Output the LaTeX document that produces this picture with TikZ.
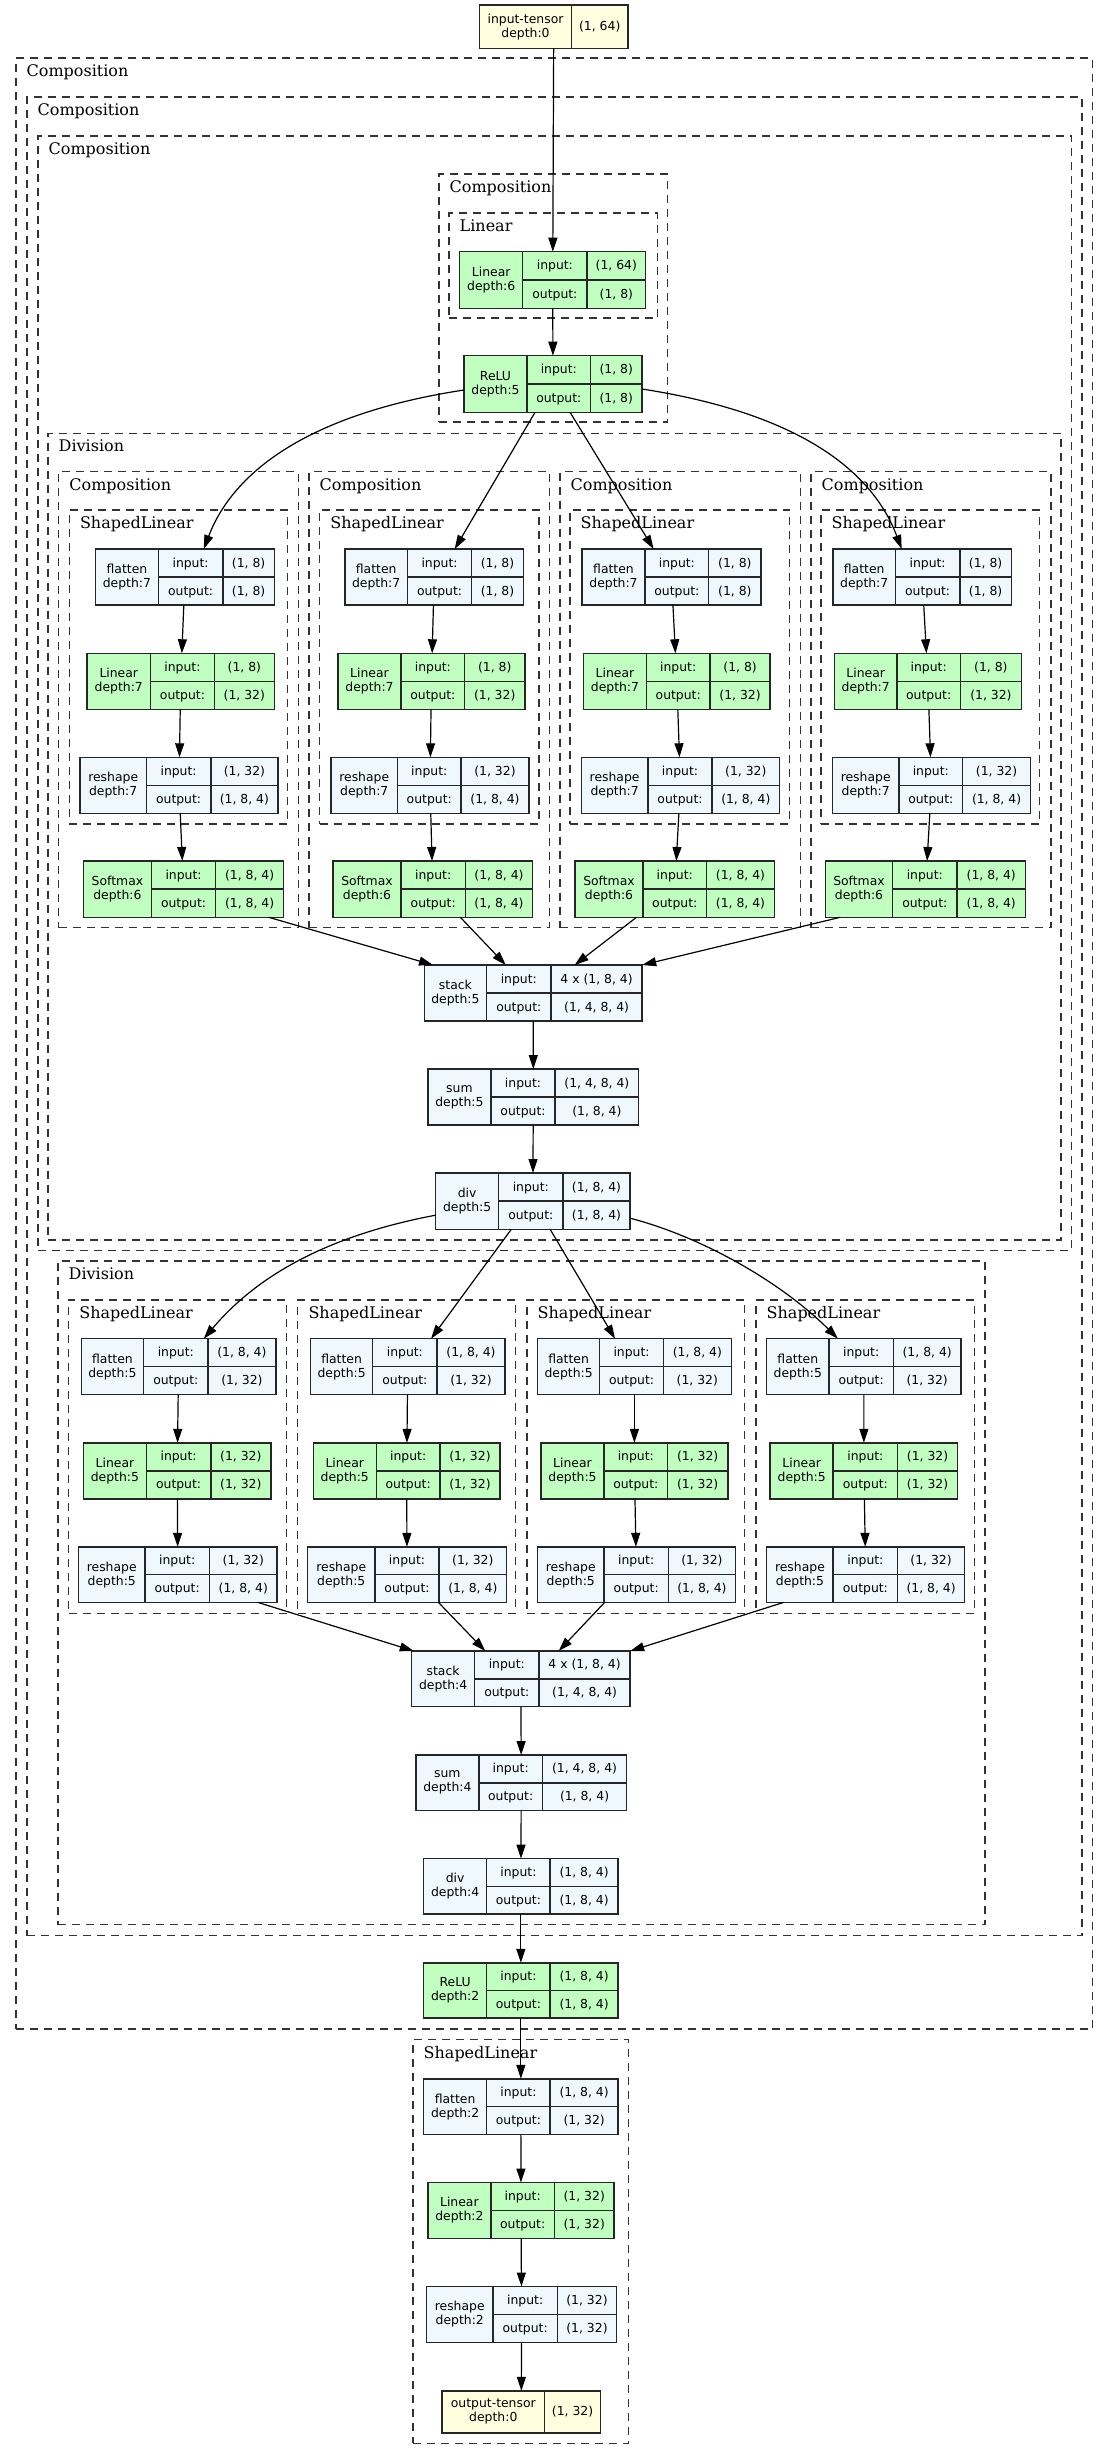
\documentclass[tikz,border=0pt]{standalone}
\usepackage{fontspec}
\newfontfamily\nodefam{DejaVu Sans}
\newfontfamily\clusfam{DejaVu Serif}
\usetikzlibrary{arrows.meta,calc}
\definecolor{modgreen}{HTML}{C1FFC1}
\definecolor{funblue}{HTML}{F0F8FF}
\definecolor{tenyellow}{HTML}{FFFFE0}
\tikzset{
 recbox/.style={draw=black!85, line width=1.5pt, inner sep=0pt, outer sep=0pt},
 recline/.style={draw=black!85, line width=1.5pt},
 labtxt/.style={inner sep=0pt, align=center, font=\nodefam\fontsize{12.4}{14}\selectfont},
 valtxt/.style={inner sep=0pt, anchor=base, font=\nodefam\fontsize{12.4}{14}\selectfont},
 clusbox/.style={draw=black!80, line width=1.3pt, dash pattern=on 8pt off 6pt, inner sep=0pt, outer sep=0pt},
 cluslab/.style={inner sep=0pt, anchor=base west, font=\clusfam\fontsize{16}{19}\selectfont},
 arr/.style={line width=1.2pt, -{Triangle[length=14pt,width=9pt]}},
}
\newcommand\clus[6]{%
 \pgfmathsetmacro\qx{(#2+#4)/2}\pgfmathsetmacro\qy{(#3+#5)/2}%
 \pgfmathsetmacro\qw{#4-#2}\pgfmathsetmacro\qh{#5-#3}%
 \node[clusbox, minimum width=\qw pt, minimum height=\qh pt] (#1) at (\qx,\qy) {};%
 \node[cluslab] (#1-lab) at ($(#1.north west)+(10.5,18.5)$) {#6};%
}
\newcommand\recnode[9]{%
 \pgfmathsetmacro\rcx{(#2+#3)/2}\pgfmathsetmacro\rcy{(#4+#5)/2}%
 \pgfmathsetmacro\rw{#3-#2}\pgfmathsetmacro\rh{#5-#4}%
 \node[recbox, fill=#8, minimum width=\rw pt, minimum height=\rh pt] (#1) at (\rcx,\rcy) {};%
 \draw[recline] (#6,#4) -- (#6,#5);%
 \draw[recline] (#7,#4) -- (#7,#5);%
 \draw[recline] (#6,\rcy) -- (#3,\rcy);%
 \pgfmathsetmacro\rAx{(#2+#6)/2}\pgfmathsetmacro\rBx{(#6+#7)/2}\pgfmathsetmacro\rCx{(#7+#3)/2}%
 \pgfmathsetmacro\rTy{(#4+\rcy)/2+4}\pgfmathsetmacro\rLy{(\rcy+#5)/2+4}%
 \node[labtxt] (#1-n) at (\rAx,\rcy) {#9};%
 \node[valtxt] (#1-ik) at (\rBx,\rTy) {input:};%
 \node[valtxt] (#1-ok) at (\rBx,\rLy) {output:};%
 \coordinate (#1-iv) at (\rCx,\rTy);%
 \coordinate (#1-ov) at (\rCx,\rLy);%
}
\newcommand\recio[3]{%
 \node[valtxt] (#1-ivt) at (#1-iv) {#2};%
 \node[valtxt] (#1-ovt) at (#1-ov) {#3};%
}
\newcommand\tensnode[8]{%
 \pgfmathsetmacro\rcx{(#2+#3)/2}\pgfmathsetmacro\rcy{(#4+#5)/2}%
 \pgfmathsetmacro\rw{#3-#2}\pgfmathsetmacro\rh{#5-#4}%
 \node[recbox, fill=tenyellow, minimum width=\rw pt, minimum height=\rh pt] (#1) at (\rcx,\rcy) {};%
 \draw[recline] (#6,#4) -- (#6,#5);%
 \pgfmathsetmacro\rAx{(#2+#6)/2}\pgfmathsetmacro\rBx{(#6+#3)/2}\pgfmathsetmacro\rVy{\rcy+4}%
 \node[labtxt] (#1-n) at (\rAx,\rcy) {#7};%
 \node[valtxt] (#1-v) at (\rBx,\rVy) {#8};%
}
\begin{document}
\begin{tikzpicture}[x=1pt,y=-1pt]
\fill[white] (0,0) rectangle (1109,2460);
\useasboundingbox (0,0) rectangle (1109,2460);
% clusters
\clus{c1}{16}{58}{1092.7}{2029}{Composition}
\clus{c2}{27}{97}{1082}{1935.6}{Composition}
\clus{c3}{38}{136}{1071.5}{1250.7}{Composition}
\clus{c4}{439}{174}{667.6}{422}{Composition}
\clus{clin}{449}{213}{657.7}{318}{Linear}
\clus{d1}{48}{433.3}{1061}{1240}{Division}
\clus{cpa}{58.7}{471.7}{298.5}{927.7}{Composition}
\clus{cpb}{309}{471.7}{549.5}{927.7}{Composition}
\clus{cpc}{560}{471.7}{800.6}{927.7}{Composition}
\clus{cpd}{811}{471.7}{1051}{927.7}{Composition}
\clus{sla}{69.3}{510}{287.8}{824}{ShapedLinear}
\clus{slb}{319.7}{510}{539}{824}{ShapedLinear}
\clus{slc}{570}{510}{789.3}{824}{ShapedLinear}
\clus{sld}{821}{510}{1039.7}{824}{ShapedLinear}
\clus{d2}{58}{1261}{985}{1924.7}{Division}
\clus{sma}{68.6}{1300}{286.4}{1613.2}{ShapedLinear}
\clus{smb}{297.8}{1300}{515.6}{1613.2}{ShapedLinear}
\clus{smc}{527}{1300}{744.7}{1613.2}{ShapedLinear}
\clus{smd}{756}{1300}{974.6}{1613.2}{ShapedLinear}
\clus{slf}{413}{2039.8}{628.7}{2443.3}{ShapedLinear}
% nodes
\tensnode{it}{479.5}{628}{5}{48.3}{571.5}{input-tensor\\depth:0}{(1, 64)}
\recnode{lin6}{459.7}{645.7}{251.7}{308.3}{522.7}{587}{modgreen}{Linear\\depth:6}\recio{lin6}{(1, 64)}{(1, 8)}
\recnode{relu5}{464}{642}{355.7}{412.3}{527}{590.6}{modgreen}{ReLU\\depth:5}\recio{relu5}{(1, 8)}{(1, 8)}
% flatten 7
\recnode{fl7a}{95.5}{274.4}{549}{605}{158.4}{222.8}{funblue}{flatten\\depth:7}\recio{fl7a}{(1, 8)}{(1, 8)}
\recnode{fl7b}{345}{523.4}{549}{605}{407.4}{471.7}{funblue}{flatten\\depth:7}\recio{fl7b}{(1, 8)}{(1, 8)}
\recnode{fl7c}{582}{761}{549}{605}{645}{708.7}{funblue}{flatten\\depth:7}\recio{fl7c}{(1, 8)}{(1, 8)}
\recnode{fl7d}{833}{1011.4}{549}{605}{895.4}{959.8}{funblue}{flatten\\depth:7}\recio{fl7d}{(1, 8)}{(1, 8)}
% linear 7
\recnode{ln7a}{87}{274.4}{653.3}{709.3}{150.6}{214.3}{modgreen}{Linear\\depth:7}\recio{ln7a}{(1, 8)}{(1, 32)}
\recnode{ln7b}{338}{524.8}{653.3}{709.3}{401}{464.7}{modgreen}{Linear\\depth:7}\recio{ln7b}{(1, 8)}{(1, 32)}
\recnode{ln7c}{583.5}{770.2}{653.3}{709.3}{646.4}{710}{modgreen}{Linear\\depth:7}\recio{ln7c}{(1, 8)}{(1, 32)}
\recnode{ln7d}{834.6}{1021.3}{653.3}{709.3}{896.8}{960.5}{modgreen}{Linear\\depth:7}\recio{ln7d}{(1, 8)}{(1, 32)}
% reshape 7
\recnode{rs7a}{80}{278}{757.3}{813.3}{146.4}{210.8}{funblue}{reshape\\depth:7}\recio{rs7a}{(1, 32)}{(1, 8, 4)}
\recnode{rs7b}{331}{529}{757.3}{813.3}{397.5}{461}{funblue}{reshape\\depth:7}\recio{rs7b}{(1, 32)}{(1, 8, 4)}
\recnode{rs7c}{581.4}{779.4}{757.3}{813.3}{647.8}{712.2}{funblue}{reshape\\depth:7}\recio{rs7c}{(1, 32)}{(1, 8, 4)}
\recnode{rs7d}{832.4}{1030.5}{757.3}{813.3}{899}{962.6}{funblue}{reshape\\depth:7}\recio{rs7d}{(1, 32)}{(1, 8, 4)}
% softmax 6
\recnode{sm6a}{83.5}{283.6}{861}{917.3}{151.4}{215.7}{modgreen}{Softmax\\depth:6}\recio{sm6a}{(1, 8, 4)}{(1, 8, 4)}
\recnode{sm6b}{333}{532.6}{861}{917.3}{401}{465.4}{modgreen}{Softmax\\depth:6}\recio{sm6b}{(1, 8, 4)}{(1, 8, 4)}
\recnode{sm6c}{575}{774.5}{861}{917.3}{643}{706.5}{modgreen}{Softmax\\depth:6}\recio{sm6c}{(1, 8, 4)}{(1, 8, 4)}
\recnode{sm6d}{825.4}{1025.5}{861}{917.3}{892.6}{957}{modgreen}{Softmax\\depth:6}\recio{sm6d}{(1, 8, 4)}{(1, 8, 4)}
% stack/sum/div 5
\recnode{stack5}{424.3}{642.2}{965}{1021}{486.6}{551}{funblue}{stack\\depth:5}\recio{stack5}{4 x (1, 8, 4)}{(1, 4, 8, 4)}
\recnode{sum5}{428}{638.6}{1069}{1125}{490.8}{555.2}{funblue}{sum\\depth:5}\recio{sum5}{(1, 4, 8, 4)}{(1, 8, 4)}
\recnode{div5}{435.7}{630}{1173}{1229.3}{498.6}{563}{funblue}{div\\depth:5}\recio{div5}{(1, 8, 4)}{(1, 8, 4)}
% flatten 5
\recnode{fl5a}{81.3}{275.8}{1338.7}{1394.7}{143.6}{208}{funblue}{flatten\\depth:5}\recio{fl5a}{(1, 8, 4)}{(1, 32)}
\recnode{fl5b}{310.5}{505}{1338.7}{1394.7}{372.7}{437}{funblue}{flatten\\depth:5}\recio{fl5b}{(1, 8, 4)}{(1, 32)}
\recnode{fl5c}{537.5}{731.3}{1338.7}{1394.7}{599.7}{663.4}{funblue}{flatten\\depth:5}\recio{fl5c}{(1, 8, 4)}{(1, 32)}
\recnode{fl5d}{766.6}{961.1}{1338.7}{1394.7}{829}{893.3}{funblue}{flatten\\depth:5}\recio{fl5d}{(1, 8, 4)}{(1, 32)}
% linear 5
\recnode{ln5a}{83.5}{270.9}{1442.8}{1498.8}{146.4}{210.8}{modgreen}{Linear\\depth:5}\recio{ln5a}{(1, 32)}{(1, 32)}
\recnode{ln5b}{313.3}{500}{1442.8}{1498.8}{376.3}{440}{modgreen}{Linear\\depth:5}\recio{ln5b}{(1, 32)}{(1, 32)}
\recnode{ln5c}{541}{727.8}{1442.8}{1498.8}{604}{667.6}{modgreen}{Linear\\depth:5}\recio{ln5c}{(1, 32)}{(1, 32)}
\recnode{ln5d}{770.2}{957.6}{1442.8}{1498.8}{833.2}{897.5}{modgreen}{Linear\\depth:5}\recio{ln5d}{(1, 32)}{(1, 32)}
% reshape 5
\recnode{rs5a}{78.5}{277.2}{1546.8}{1602.4}{145}{209.4}{funblue}{reshape\\depth:5}\recio{rs5a}{(1, 32)}{(1, 8, 4)}
\recnode{rs5b}{307.7}{506.4}{1546.8}{1602.4}{374.8}{439.2}{funblue}{reshape\\depth:5}\recio{rs5b}{(1, 32)}{(1, 8, 4)}
\recnode{rs5c}{537.5}{735.5}{1546.8}{1602.4}{604}{668.4}{funblue}{reshape\\depth:5}\recio{rs5c}{(1, 32)}{(1, 8, 4)}
\recnode{rs5d}{766.7}{964.7}{1546.8}{1602.4}{833.2}{897.5}{funblue}{reshape\\depth:5}\recio{rs5d}{(1, 32)}{(1, 8, 4)}
% stack/sum/div 4
\recnode{stack4}{411.6}{630.2}{1651}{1706.5}{474.6}{539}{funblue}{stack\\depth:4}\recio{stack4}{4 x (1, 8, 4)}{(1, 4, 8, 4)}
\recnode{sum4}{415.9}{626.6}{1755}{1810.5}{478.8}{542.5}{funblue}{sum\\depth:4}\recio{sum4}{(1, 4, 8, 4)}{(1, 8, 4)}
\recnode{div4}{423.6}{618.1}{1858.6}{1914.2}{486.6}{550.2}{funblue}{div\\depth:4}\recio{div4}{(1, 8, 4)}{(1, 8, 4)}
\recnode{relu2}{423.6}{618.1}{1962.8}{2018}{486.6}{550.2}{modgreen}{ReLU\\depth:2}\recio{relu2}{(1, 8, 4)}{(1, 8, 4)}
\recnode{fl2}{423.6}{618.1}{2078.8}{2134.4}{486.6}{550.2}{funblue}{flatten\\depth:2}\recio{fl2}{(1, 8, 4)}{(1, 32)}
\recnode{ln2}{428}{614}{2182.6}{2238.3}{490.8}{554.5}{modgreen}{Linear\\depth:2}\recio{ln2}{(1, 32)}{(1, 32)}
\recnode{rs2}{426.5}{616.7}{2286.5}{2342.5}{493}{557.3}{funblue}{reshape\\depth:2}\recio{rs2}{(1, 32)}{(1, 32)}
\tensnode{ot}{442}{600.5}{2390.8}{2432.8}{544.6}{output-tensor\\depth:0}{(1, 32)}
% edges
\draw[arr] (it) -- (lin6);
\draw[arr] (lin6) -- (relu5);
\draw[arr] ($(relu5.west)+(0,6)$) .. controls (320,412) and (236,465) .. ($(fl7a.north west)!0.605!(fl7a.north east)$);
\draw[arr] ($(relu5.south west)!0.399!(relu5.south east)$) -- ($(fl7b.north west)!0.615!(fl7b.north east)$);
\draw[arr] ($(relu5.south west)!0.596!(relu5.south east)$) -- ($(fl7c.north west)!0.40!(fl7c.north east)$);
\draw[arr] ($(relu5.east)+(0,5)$) .. controls (790,412) and (870,465) .. ($(fl7d.north west)!0.385!(fl7d.north east)$);
\foreach \c in {a,b,c,d}{
 \draw[arr] (fl7\c) -- (ln7\c);
 \draw[arr] (ln7\c) -- (rs7\c);
 \draw[arr] (rs7\c) -- (sm6\c);
 \draw[arr] (fl5\c) -- (ln5\c);
 \draw[arr] (ln5\c) -- (rs5\c);
}
\draw[arr] ($(sm6a.south west)!0.926!(sm6a.south east)$) -- ($(stack5.north west)!0.04!(stack5.north east)$);
\draw[arr] ($(sm6b.south west)!0.638!(sm6b.south east)$) -- ($(stack5.north west)!0.374!(stack5.north east)$);
\draw[arr] ($(sm6c.south west)!0.308!(sm6c.south east)$) -- ($(stack5.north west)!0.69!(stack5.north east)$);
\draw[arr] ($(sm6d.south west)!0.074!(sm6d.south east)$) -- (stack5.north east);
\draw[arr] (stack5) -- (sum5);
\draw[arr] (sum5) -- (div5);
\draw[arr] ($(div5.west)+(0,14)$) .. controls (320,1237) and (253.2,1280.2) .. ($(fl5a.north west)!0.63!(fl5a.north east)$);
\draw[arr] ($(div5.south west)!0.389!(div5.south east)$) -- ($(fl5b.north west)!0.62!(fl5b.north east)$);
\draw[arr] ($(div5.south west)!0.589!(div5.south east)$) -- ($(fl5c.north west)!0.40!(fl5c.north east)$);
\draw[arr] ($(div5.east)+(0,17)$) .. controls (700,1236.3) and (779.5,1280.6) .. ($(fl5d.north west)!0.367!(fl5d.north east)$);
\draw[arr] ($(rs5a.south west)!0.903!(rs5a.south east)$) -- ($(stack4.north west)!0.01!(stack4.north east)$);
\draw[arr] ($(rs5b.south west)!0.658!(rs5b.south east)$) -- ($(stack4.north west)!0.337!(stack4.north east)$);
\draw[arr] ($(rs5c.south west)!0.339!(rs5c.south east)$) -- ($(stack4.north west)!0.673!(stack4.north east)$);
\draw[arr] ($(rs5d.south west)!0.085!(rs5d.south east)$) -- (stack4.north east);
\draw[arr] (stack4) -- (sum4);
\draw[arr] (sum4) -- (div4);
\draw[arr] (div4) -- (relu2);
\draw[arr] (relu2) -- (fl2);
\draw[arr] (fl2) -- (ln2);
\draw[arr] (ln2) -- (rs2);
\draw[arr] (rs2) -- (ot);
\end{tikzpicture}
\end{document}
